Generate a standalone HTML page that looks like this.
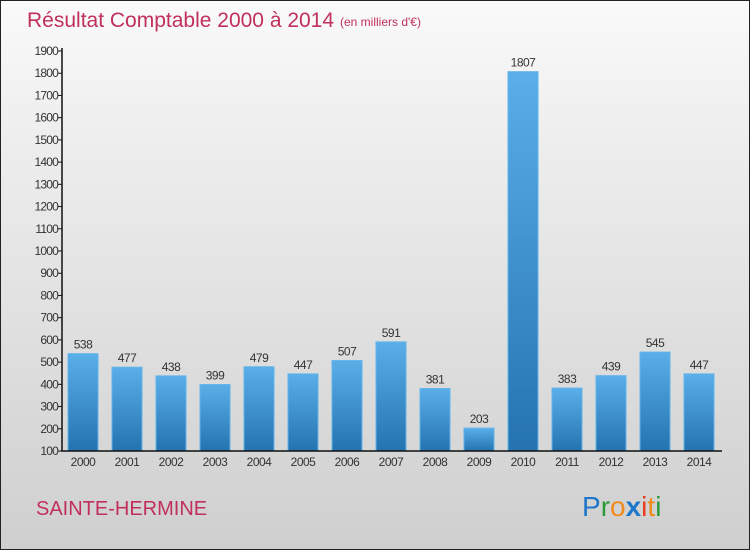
<!DOCTYPE html>
<html><head><meta charset="utf-8"><style>
html,body{margin:0;padding:0}
body{width:750px;height:550px;overflow:hidden;font-family:"Liberation Sans",sans-serif}
#frame{position:absolute;left:0;top:0;width:748px;height:548px;border:1px solid #222;background:linear-gradient(#fafafa,#f0f0f0 20%,#cfcfcf)}
</style></head><body>
<div id="frame">
<svg id="chart" width="750" height="550" style="position:absolute;left:-1px;top:-1px">
<defs><linearGradient id="bg" x1="0" y1="0" x2="0" y2="1"><stop offset="0" stop-color="#5aafe8"/><stop offset="1" stop-color="#2473b0"/></linearGradient></defs>
<text x="27" y="27" font-size="21" fill="#c0305a">Résultat Comptable 2000 à 2014</text>
<text x="340" y="26" font-size="12" fill="#c0305a">(en milliers d'€)</text>
<text x="36" y="515" font-size="20" fill="#c0305a">SAINTE-HERMINE</text>
<g font-size="28" font-family="'Liberation Sans',sans-serif">
<text x="582" y="516"><tspan fill="#1f77c9">P</tspan><tspan fill="#2a9a3a">r</tspan><tspan fill="#f08a1c">o</tspan><tspan fill="#1f77c9" font-weight="bold">x</tspan><tspan fill="#e83a1c">i</tspan><tspan fill="#f08a1c">t</tspan><tspan fill="#2a9a3a">i</tspan></text>
</g>
</svg>
</div>
<script>
const years=["2000","2001","2002","2003","2004","2005","2006","2007","2008","2009","2010","2011","2012","2013","2014"];
const values=[538,477,438,399,479,447,507,591,381,203,1807,383,439,545,447];
const yTicks=[100,200,300,400,500,600,700,800,900,1000,1100,1200,1300,1400,1500,1600,1700,1800,1900];
const svg=document.getElementById('chart');
const NS='http://www.w3.org/2000/svg';
const y0=451,yMin=100,yMax=1900,yTop=51;
function yScale(v){return y0-(v-yMin)*(y0-yTop)/(yMax-yMin);}
function xScale(i){return 83+i*44;}
function mk(t,a){const e=document.createElementNS(NS,t);for(const k in a)e.setAttribute(k,a[k]);svg.appendChild(e);return e;}
yTicks.forEach(t=>{
 const y=yScale(t);
 const l=mk('line',{x1:58,x2:62,y1:y,y2:y,stroke:'#111'});
 
 
 const tx=mk('text',{x:58,y:y+4,'font-size':12,'text-anchor':'end',fill:'#333','letter-spacing':'-0.8'});
 tx.textContent=t;
 
 
});
values.forEach((v,i)=>{
 const cx=xScale(i),y=yScale(v);
 const r=mk('rect',{x:cx-15,y:y,width:30,height:y0-y,fill:'url(#bg)',stroke:'#62b3ea','stroke-width':1});
 
 
 const vl=mk('text',{x:cx,y:y-5,'font-size':12,'text-anchor':'middle',fill:'#333','letter-spacing':'-0.5'});
 vl.textContent=v;
 
 
 const xl=mk('text',{x:cx,y:466,'font-size':12,'text-anchor':'middle',fill:'#333','letter-spacing':'-0.5'});
 xl.textContent=years[i];
 
 
});
const ya=mk('line',{x1:62,x2:62,y1:48,y2:y0,stroke:'#111','stroke-width':1.5});


const xa=mk('line',{x1:61,x2:722,y1:y0,y2:y0,stroke:'#111','stroke-width':1.5});


</script>
</body></html>
